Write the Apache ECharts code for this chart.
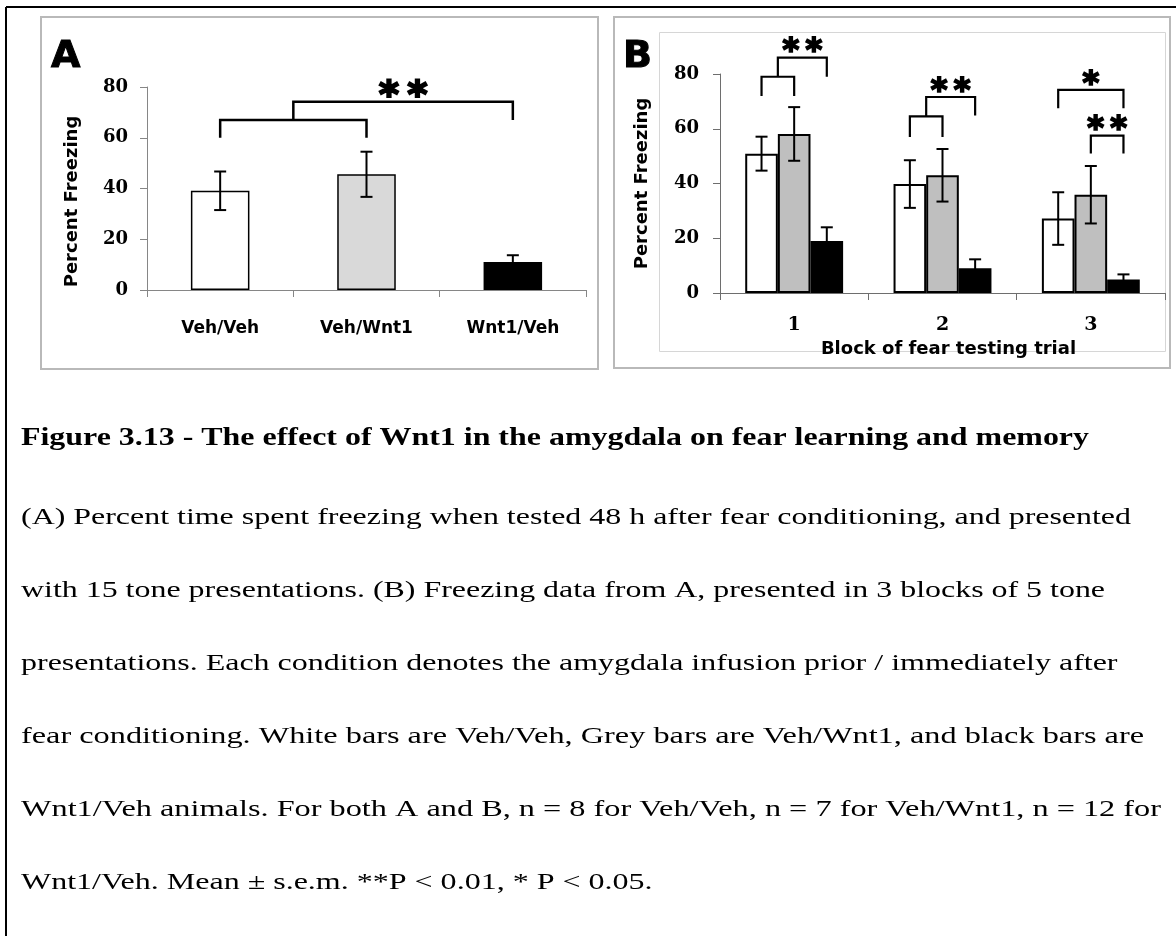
<!DOCTYPE html>
<html><head><meta charset="utf-8">
<script src="https://cdn.jsdelivr.net/npm/echarts@6/dist/echarts.min.js"></script>
<style>html,body{margin:0;padding:0;background:#fff}#c{width:1176px;height:936px}</style>
</head><body><div id="c"></div>
<script>
// ---------- DATA ----------
const categoriesA = ['Veh/Veh', 'Veh/Wnt1', 'Wnt1/Veh'];
const meanA = [39.1, 45.6, 11.0];
const semA = [7.6, 8.9, 2.7];

const blocksB = ['1', '2', '3'];
const groupsB = ['Veh/Veh', 'Veh/Wnt1', 'Wnt1/Veh'];
const vehVehB = [50.9, 39.8, 27.2];
const vehVehSemB = [6.2, 8.7, 9.6];
const vehWnt1B = [58.1, 43.0, 35.9];
const vehWnt1SemB = [9.8, 9.6, 10.5];
const wnt1VehB = [19.0, 9.0, 4.9];
const wnt1VehSemB = [5.0, 3.3, 1.9];

const yAxisTitle = 'Percent Freezing';
const xAxisTitleB = 'Block of fear testing trial';

// significance brackets (values in % freezing units)
const bracketsA = [
  { from: [0], to: [1], top: 67, fromEnd: 60, toEnd: 60, stars: '' },
  { from: [0, 1], to: [2], top: 74.2, fromEnd: 67, toEnd: 67, stars: '**' }
];
const bracketsB = [
  { block: 0, from: [0], to: [1], top: 79, fromEnd: 72, toEnd: 72, stars: '' },
  { block: 0, from: [0, 1], to: [2], top: 86, fromEnd: 79, toEnd: 79, stars: '**' },
  { block: 1, from: [0], to: [1], top: 64.5, fromEnd: 57, toEnd: 57, stars: '' },
  { block: 1, from: [0, 1], to: [2], top: 71.6, fromEnd: 64.5, toEnd: 64.8, stars: '**' },
  { block: 2, from: [0], to: [2], top: 74.2, fromEnd: 67.5, toEnd: 67.5, stars: '*' },
  { block: 2, from: [1], to: [2], top: 57.5, fromEnd: 51, toEnd: 51, stars: '**' }
];

const captionTitle = 'Figure 3.13 - The effect of Wnt1 in the amygdala on fear learning and memory';
const captionLines = [
  '(A) Percent time spent freezing when tested 48 h after fear conditioning, and presented',
  'with 15 tone presentations. (B) Freezing data from A, presented in 3 blocks of 5 tone',
  'presentations. Each condition denotes the amygdala infusion prior / immediately after',
  'fear conditioning. White bars are Veh/Veh, Grey bars are Veh/Wnt1, and black bars are',
  'Wnt1/Veh animals. For both A and B, n = 8 for Veh/Veh, n = 7 for Veh/Wnt1, n = 12 for',
  'Wnt1/Veh. Mean \u00b1 s.e.m. **P < 0.01, * P < 0.05.'
];

// ---------- STYLE / LAYOUT ----------
const colorsA = ['#ffffff', '#d9d9d9', '#000000'];
const colorsB = ['#ffffff', '#bfbfbf', '#000000'];
const BAR_FRAC_A = 0.40;
const BAR_FRAC_B = 0.22;
const CAPTION_RIGHT_TITLE = 1089;
const CAPTION_RIGHT = [1131, 1105, 1117.5, 1144, 1161, 652.5];

const chart = echarts.init(document.getElementById('c'), null, { renderer: 'canvas' });

function errRender(slot, barFrac, capHalf, lw) {
  return function (params, api) {
    const i = api.value(0), m = api.value(1), e = api.value(2);
    const band = api.size([1, 0])[0];
    const x = api.coord([i, m])[0] + slot * band * barFrac;
    const yHi = api.coord([i, m + e])[1], yLo = api.coord([i, m - e])[1];
    const st = { stroke: '#000', lineWidth: lw };
    return { type: 'group', children: [
      { type: 'line', shape: { x1: x, y1: yHi, x2: x, y2: yLo }, style: st },
      { type: 'line', shape: { x1: x - capHalf, y1: yHi, x2: x + capHalf, y2: yHi }, style: st },
      { type: 'line', shape: { x1: x - capHalf, y1: yLo, x2: x + capHalf, y2: yLo }, style: st }
    ] };
  };
}

function bracketRender(list, xOf, lw, starSize, starGap, starLift, starStroke) {
  return function (params, api) {
    const b = list[params.dataIndex];
    const avg = arr => arr.reduce((a, s) => a + xOf(b, s, api), 0) / arr.length;
    const x1 = avg(b.from), x2 = avg(b.to);
    const yT = api.coord([0, b.top])[1];
    const y1 = api.coord([0, b.fromEnd])[1];
    const y2 = api.coord([0, b.toEnd])[1];
    const children = [{
      type: 'polyline',
      shape: { points: [[x1, y1], [x1, yT], [x2, yT], [x2, y2]] },
      style: { stroke: '#000', lineWidth: lw, fill: null, lineJoin: 'miter' }
    }];
    const n = b.stars.length, cx = (x1 + x2) / 2;
    for (let k = 0; k < n; k++) {
      children.push({
        type: 'text',
        x: cx + (k - (n - 1) / 2) * starGap,
        y: yT - starLift + 0.2 * starSize,
        style: { text: '*', fontFamily: 'DejaVu Sans', fontWeight: 'bold', fontSize: starSize,
                 fill: '#000', stroke: '#000', lineWidth: starStroke,
                 align: 'center', verticalAlign: 'middle' }
      });
    }
    return { type: 'group', children };
  };
}

const xOfA = (b, s, api) => api.coord([s, 0])[0];
const xOfB = (b, s, api) => api.coord([b.block, 0])[0] + (s - 1) * api.size([1, 0])[0] * BAR_FRAC_B;

// caption graphics
const measCtx = document.createElement('canvas').getContext('2d');
function captionText(text, bold, size, right, y) {
  const font = (bold ? 'bold ' : '') + size + 'px "Liberation Serif"';
  measCtx.font = font;
  const w = measCtx.measureText(text).width;
  return {
    type: 'text', x: 21, y: y, scaleX: (right - 21) / w, scaleY: 1,
    style: { text: text, fontFamily: 'Liberation Serif', fontWeight: bold ? 'bold' : 'normal',
             fontSize: size, fill: '#000', align: 'left', verticalAlign: 'middle' },
    z: 10
  };
}

const graphics = [
  { type: 'line', shape: { x1: 6, y1: 7, x2: 1176, y2: 7 }, style: { stroke: '#000', lineWidth: 2 }, z: 0 },
  { type: 'line', shape: { x1: 6, y1: 7, x2: 6, y2: 936 }, style: { stroke: '#000', lineWidth: 2 }, z: 0 },
  { type: 'rect', shape: { x: 41, y: 17, width: 557, height: 352 }, style: { stroke: '#b9b9b9', lineWidth: 2, fill: null }, z: 0 },
  { type: 'rect', shape: { x: 614, y: 17, width: 556, height: 351 }, style: { stroke: '#b9b9b9', lineWidth: 2, fill: null }, z: 0 },
  { type: 'rect', shape: { x: 659.5, y: 32.5, width: 506, height: 319 }, style: { stroke: '#d6d6d6', lineWidth: 1, fill: null }, z: 0 },
  { type: 'text', x: 51, y: 57.5, style: { text: 'A', fontFamily: 'DejaVu Sans', fontWeight: 'bold', fontSize: 38, fill: '#000', stroke: '#000', lineWidth: 1, align: 'left', verticalAlign: 'middle' }, z: 10 },
  { type: 'text', x: 623, y: 57.5, style: { text: 'B', fontFamily: 'DejaVu Sans', fontWeight: 'bold', fontSize: 38, fill: '#000', stroke: '#000', lineWidth: 1, align: 'left', verticalAlign: 'middle' }, z: 10 },
  captionText(captionTitle, true, 25, CAPTION_RIGHT_TITLE, 439)
];
captionLines.forEach((t, k) => graphics.push(captionText(t, false, 24, CAPTION_RIGHT[k], 517.6 + 73.06 * k)));

const tickLabelStyle = { color: '#000', fontFamily: 'DejaVu Serif', fontWeight: 'bold', fontSize: 18 };

const option = {
  animation: false,
  backgroundColor: '#fff',
  grid: [
    { left: 147, top: 87, width: 439, height: 203, containLabel: false, outerBoundsMode: 'none' },
    { left: 720, top: 74, width: 445, height: 219, containLabel: false, outerBoundsMode: 'none' }
  ],
  xAxis: [
    { type: 'category', gridIndex: 0, data: categoriesA,
      axisLine: { show: true, lineStyle: { color: '#868686', width: 1 } },
      axisTick: { show: true, length: 7, lineStyle: { color: '#868686' } },
      axisLabel: { margin: 30, color: '#000', fontFamily: 'DejaVu Sans', fontWeight: 'bold', fontSize: 17, interval: 0 },
      splitLine: { show: false } },
    { type: 'category', gridIndex: 1, data: blocksB,
      name: xAxisTitleB, nameLocation: 'middle', nameGap: 47,
      nameTextStyle: { color: '#000', fontFamily: 'DejaVu Sans', fontWeight: 'bold', fontSize: 18, padding: [0, 0, 0, 12] },
      axisLine: { show: true, lineStyle: { color: '#6e6e6e', width: 1 } },
      axisTick: { show: true, length: 7, lineStyle: { color: '#6e6e6e' } },
      axisLabel: { margin: 23, color: '#000', fontFamily: 'DejaVu Serif', fontWeight: 'bold', fontSize: 19, interval: 0 },
      splitLine: { show: false } }
  ],
  yAxis: [
    { type: 'value', gridIndex: 0, min: 0, max: 80, interval: 20,
      name: yAxisTitle, nameLocation: 'middle', nameGap: 66,
      nameTextStyle: { color: '#000', fontFamily: 'DejaVu Sans', fontWeight: 'bold', fontSize: 18, padding: [0, 26, 0, 0] },
      axisLine: { show: true, lineStyle: { color: '#868686', width: 1 } },
      axisTick: { show: true, length: 7, lineStyle: { color: '#868686' } },
      axisLabel: Object.assign({ margin: 19 }, tickLabelStyle),
      splitLine: { show: false } },
    { type: 'value', gridIndex: 1, min: 0, max: 80, interval: 20,
      name: yAxisTitle, nameLocation: 'middle', nameGap: 69,
      nameTextStyle: { color: '#000', fontFamily: 'DejaVu Sans', fontWeight: 'bold', fontSize: 18 },
      axisLine: { show: true, lineStyle: { color: '#6e6e6e', width: 1 } },
      axisTick: { show: true, length: 7, lineStyle: { color: '#6e6e6e' } },
      axisLabel: Object.assign({ margin: 21 }, tickLabelStyle),
      splitLine: { show: false } }
  ],
  series: [
    { type: 'bar', xAxisIndex: 0, yAxisIndex: 0, barWidth: (BAR_FRAC_A * 100) + '%',
      data: meanA.map((v, i) => ({ value: v, itemStyle: { color: colorsA[i] } })),
      itemStyle: { borderColor: '#000', borderWidth: 1.5 }, silent: true },
    { type: 'custom', xAxisIndex: 0, yAxisIndex: 0, z: 5, clip: false, silent: true,
      encode: { x: 0, y: 1 },
      data: meanA.map((m, i) => [i, m, semA[i]]),
      renderItem: errRender(0, BAR_FRAC_A, 6, 2) },
    { type: 'custom', xAxisIndex: 0, yAxisIndex: 0, z: 5, clip: false, silent: true,
      encode: { x: 0, y: 1 },
      data: bracketsA.map(b => [b.from[0], b.top]),
      renderItem: bracketRender(bracketsA, xOfA, 2.5, 38, 28.5, 12, 2.2) },

    ...[[vehVehB, vehVehSemB], [vehWnt1B, vehWnt1SemB], [wnt1VehB, wnt1VehSemB]].flatMap((pair, s) => [
      { type: 'bar', name: groupsB[s], xAxisIndex: 1, yAxisIndex: 1, barWidth: (BAR_FRAC_B * 100) + '%', barGap: '0%',
        data: pair[0], itemStyle: { color: colorsB[s], borderColor: '#000', borderWidth: 2 }, silent: true },
      { type: 'custom', xAxisIndex: 1, yAxisIndex: 1, z: 5, clip: false, silent: true,
        encode: { x: 0, y: 1 },
        data: pair[0].map((m, i) => [i, m, pair[1][i]]),
        renderItem: errRender(s - 1, BAR_FRAC_B, 6, 2) }
    ]),
    { type: 'custom', xAxisIndex: 1, yAxisIndex: 1, z: 5, clip: false, silent: true,
      encode: { x: 0, y: 1 },
      data: bracketsB.map(b => [b.block, b.top]),
      renderItem: bracketRender(bracketsB, xOfB, 2.2, 32, 23, 12, 1.8) }
  ],
  graphic: graphics
};
chart.setOption(option);
</script>
</body></html>
